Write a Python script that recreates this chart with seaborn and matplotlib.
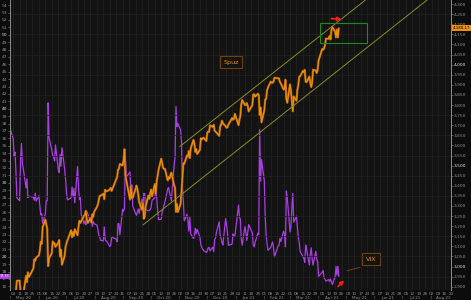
import numpy as np
import pandas as pd
import matplotlib
matplotlib.use("Agg")
import matplotlib.pyplot as plt
import matplotlib.transforms as mtrans
from matplotlib.patches import Rectangle
import seaborn as sns

sns.set_theme(style="dark")
plt.rcParams["font.family"] = ["DejaVu Sans"]

# ---------------- data (daily closes) ----------------
spx_may20 = [2830.71, 2842.74, 2868.44, 2848.42, 2881.19, 2929.80, 2930.32, 2870.12, 2820.00, 2852.50,
             2863.70, 2953.91, 2922.94, 2971.61, 2948.51, 2955.45, 2991.77, 3036.13, 3029.73, 3044.31]
spx_jun20 = [3055.73, 3080.82, 3122.87, 3112.35, 3193.93, 3232.39, 3207.18, 3190.14, 3002.10, 3041.31, 3066.59,
             3124.74, 3113.49, 3115.34, 3097.74, 3117.86, 3131.29, 3050.33, 3083.76, 3009.05, 3053.24, 3100.29]
spx_jul20 = [3115.86, 3130.01, 3179.72, 3145.32, 3169.94, 3152.05, 3185.04, 3155.22, 3197.52, 3226.56, 3215.57,
             3224.73, 3251.84, 3257.30, 3276.02, 3235.66, 3215.63, 3239.41, 3218.44, 3258.44, 3246.22, 3271.12]
spx_aug20 = [3294.61, 3306.51, 3327.77, 3349.16, 3351.28, 3360.47, 3333.69, 3380.35, 3373.43, 3372.85, 3381.99,
             3389.78, 3374.85, 3385.51, 3397.16, 3431.28, 3443.62, 3478.73, 3484.55, 3508.01, 3500.31]
spx_sep20 = [3526.65, 3580.84, 3455.06, 3426.96, 3331.84, 3398.96, 3339.19, 3340.97, 3383.54, 3401.20, 3385.49,
             3357.01, 3319.47, 3281.06, 3315.57, 3236.92, 3246.59, 3298.46, 3351.60, 3335.47, 3363.00]
spx_oct20 = [3380.80, 3348.42, 3408.60, 3360.97, 3419.44, 3446.83, 3477.14, 3534.22, 3511.93, 3488.67, 3483.34,
             3483.81, 3426.92, 3443.12, 3435.56, 3453.49, 3465.39, 3400.97, 3390.68, 3271.03, 3310.11, 3269.96]
spx_nov20 = [3310.24, 3369.16, 3443.44, 3510.45, 3509.44, 3550.50, 3545.53, 3572.66, 3537.01, 3585.15,
             3626.91, 3609.53, 3567.79, 3581.87, 3557.54, 3577.59, 3635.41, 3629.65, 3638.35, 3621.63]
spx_dec20 = [3662.45, 3669.01, 3666.72, 3699.12, 3691.96, 3702.25, 3672.82, 3668.10, 3663.46, 3647.49, 3694.62,
             3701.17, 3722.48, 3709.41, 3694.92, 3687.26, 3690.01, 3703.06, 3735.36, 3727.04, 3732.04, 3756.07]
spx_jan21 = [3700.65, 3726.86, 3748.14, 3803.79, 3824.68, 3799.61, 3801.19, 3809.84, 3795.54, 3768.25,
             3798.91, 3851.85, 3853.07, 3841.47, 3855.36, 3849.62, 3750.77, 3787.38, 3714.24]
spx_feb21 = [3773.86, 3826.31, 3830.17, 3871.74, 3886.83, 3915.59, 3911.23, 3909.88, 3916.38, 3934.83,
             3932.59, 3931.33, 3913.97, 3906.71, 3876.50, 3881.37, 3925.43, 3829.34, 3811.15]
spx_mar21 = [3901.82, 3870.29, 3819.72, 3768.47, 3841.94, 3821.35, 3875.44, 3898.81, 3939.34, 3943.34, 3968.94,
             3962.71, 3974.12, 3915.46, 3913.10, 3940.59, 3910.52, 3889.14, 3909.52, 3974.54, 3971.09, 3958.55, 3972.89]
spx_apr21 = [4019.87, 4077.91, 4073.94, 4079.95, 4097.17, 4128.80, 4127.99, 4141.59, 4124.66, 4170.42,
             4185.47, 4163.26, 4134.94, 4173.42, 4134.98, 4180.17]

vix_may20 = [37.19, 35.97, 33.61, 34.12, 31.44, 27.98, 27.57, 33.04, 35.28, 32.61,
             31.89, 29.30, 30.53, 27.99, 28.16, 28.16, 28.01, 27.62, 28.59, 27.51]
vix_jun20 = [28.23, 26.84, 25.66, 25.81, 24.52, 25.81, 27.57, 27.57, 40.79, 36.09, 34.40,
             33.67, 33.47, 32.94, 35.12, 31.77, 31.37, 33.84, 32.22, 34.73, 31.78, 30.43]
vix_jul20 = [28.62, 27.68, 27.94, 29.43, 28.08, 29.26, 27.29, 32.19, 29.52, 27.76, 28.00,
             25.68, 24.46, 24.84, 24.32, 26.08, 25.84, 24.74, 25.44, 24.10, 24.76, 24.46]
vix_aug20 = [24.28, 23.76, 22.99, 22.65, 22.21, 22.13, 24.03, 22.28, 22.13, 22.05, 21.35,
             21.51, 22.54, 22.72, 22.54, 22.37, 22.03, 24.47, 24.47, 22.96, 26.41]
vix_sep20 = [26.12, 26.57, 33.60, 30.75, 31.46, 28.81, 29.71, 26.87, 25.85, 25.59, 26.04,
             26.46, 25.83, 27.78, 26.86, 28.58, 28.51, 26.38, 26.19, 26.27, 26.37]
vix_oct20 = [26.70, 27.63, 27.96, 29.48, 28.06, 26.36, 25.00, 25.07, 26.07, 26.40, 26.97,
             27.41, 29.18, 29.35, 28.65, 28.11, 27.55, 32.46, 33.35, 40.28, 37.59, 38.02]
vix_nov20 = [37.13, 35.55, 29.57, 27.58, 24.86, 25.75, 24.80, 23.45, 25.35, 23.10,
             22.45, 22.71, 23.84, 23.11, 23.70, 22.66, 21.64, 21.25, 20.84, 20.57]
vix_dec20 = [20.77, 21.17, 21.28, 20.79, 21.30, 20.68, 22.27, 22.52, 23.31, 24.72, 22.89,
             22.50, 21.93, 21.57, 25.16, 24.23, 23.31, 21.53, 21.70, 23.08, 22.77, 22.75]
vix_jan21 = [26.97, 25.34, 25.07, 22.37, 21.56, 24.08, 23.33, 22.21, 23.25, 24.34,
             23.24, 21.58, 21.32, 21.91, 23.19, 23.02, 37.21, 30.21, 33.09]
vix_feb21 = [30.24, 25.56, 22.91, 21.77, 20.87, 21.24, 21.63, 21.99, 21.25, 19.97,
             21.46, 21.50, 22.49, 22.05, 23.45, 23.11, 21.34, 28.89, 27.95]
vix_mar21 = [23.35, 24.10, 26.67, 28.57, 24.66, 25.47, 24.03, 22.56, 21.91, 20.69, 20.03,
             19.79, 19.23, 21.58, 20.95, 18.88, 20.30, 21.20, 19.81, 18.86, 20.74, 19.61, 19.40]
vix_apr21 = [17.33, 17.91, 18.12, 17.16, 16.95, 16.69, 16.91, 16.65, 16.99, 16.57,
             16.25, 17.29, 18.68, 17.50, 18.71, 17.33]

market_holidays = ["2020-05-25", "2020-07-03", "2020-09-07", "2020-11-26", "2020-12-25",
                   "2021-01-01", "2021-01-18", "2021-02-15", "2021-04-02"]
first_day, last_day = "2020-05-01", "2021-04-23"

spx = (spx_may20 + spx_jun20 + spx_jul20 + spx_aug20 + spx_sep20 + spx_oct20 +
       spx_nov20 + spx_dec20 + spx_jan21 + spx_feb21 + spx_mar21 + spx_apr21)
vix = (vix_may20 + vix_jun20 + vix_jul20 + vix_aug20 + vix_sep20 + vix_oct20 +
       vix_nov20 + vix_dec20 + vix_jan21 + vix_feb21 + vix_mar21 + vix_apr21)

dates = pd.bdate_range(first_day, last_day)
dates = dates[~dates.isin(pd.to_datetime(market_holidays))]
n = min(len(dates), len(spx), len(vix))
df = pd.DataFrame({"date": dates[:n], "spx": spx[:n], "vix": vix[:n]})

# annotation anchors (dates / values on the chart's scales)
channel_lower = (["2020-09-22", "2021-07-28"], [3206, 4320])
channel_upper = (["2020-11-01", "2021-05-22"], [3594, 4320])
box_dates, box_vals = ["2021-04-03", "2021-05-24"], [4105, 4204]
arrow_top = (["2021-04-12", "2021-04-29"], [4229, 4224])
arrow_vix = (["2021-04-20", "2021-05-01"], [15.72, 17.07])
spuz_label = ("2020-12-27", 4011)
vix_label = ("2021-05-28", 19.65)
vix_leader = (["2021-05-16", "2021-05-02"], [18.57, 18.10])

# ---------------- figure ----------------
BG_OUT = "#0c0c0c"
BG_IN = "#131313"
GRID = "#222222"
ORANGE = "#f0900c"
PURPLE = "#ac3ce6"
TXT = "#8e8e8e"

W, H = 471, 300
fig = plt.figure(figsize=(W / 100, H / 100), dpi=100, facecolor=BG_OUT)
ax = fig.add_axes([9.5 / W, 10 / H, (451 - 9.5) / W, 290 / H])
ax.set_facecolor(BG_IN)
ax2 = ax.twinx()

xmin, xmax = pd.Timestamp("2020-04-30"), pd.Timestamp("2021-08-23")

# grid: weekly verticals, horizontal at odd hundreds of SPX
mondays = pd.date_range("2020-05-04", "2021-08-23", freq="W-MON")
ax.set_xticks(mondays)
ax.set_xticklabels([d.strftime("%d") for d in mondays])
ax.grid(axis="x", color=GRID, lw=0.5)
ax.grid(axis="y", visible=False)
ax2.grid(False)
for v in np.arange(2950, 4300, 100):
    ax2.axhline(v, color=GRID, lw=0.5, zorder=0)

sns.lineplot(data=df, x="date", y="vix", ax=ax, color=PURPLE, lw=0.9, zorder=3)
sns.lineplot(data=df, x="date", y="spx", ax=ax2, color="#a85f04", lw=1.6, zorder=3)
sns.lineplot(data=df, x="date", y="spx", ax=ax2, color=ORANGE, lw=0.8, zorder=4)

ax.set_xlim(xmin, xmax)
ax.set_ylim(15.5, 54.7)
ax2.set_ylim(2884, 4320)
ax.set_xlabel("")
ax.set_ylabel("")
ax2.set_ylabel("")

# y ticks
vix_ticks = list(range(16, 55))
ax.set_yticks(vix_ticks)
ax.set_yticklabels([str(t) for t in vix_ticks])
for lbl, t in zip(ax.get_yticklabels(), vix_ticks):
    lbl.set_color("#e0e0e0" if t % 10 == 0 else TXT)
ax.tick_params(axis="y", labelsize=3.2, length=1.2, width=0.4, color="#888888", pad=0.5)

spx_ticks = list(range(2900, 4301, 50))
ax2.set_yticks(spx_ticks)
ax2.set_yticklabels([f"{t:,}" for t in spx_ticks])
for lbl, t in zip(ax2.get_yticklabels(), spx_ticks):
    lbl.set_color("#e0e0e0" if t % 500 == 0 else TXT)
ax2.tick_params(axis="y", labelsize=3.2, length=1.2, width=0.4, color="#888888", pad=0.5)

ax.tick_params(axis="x", labelsize=3.0, length=0, pad=1.2, labelcolor=TXT)

for a in (ax, ax2):
    for s in ("top", "bottom"):
        a.spines[s].set_visible(False)
    a.spines["left"].set_color("#8a8a8a")
    a.spines["right"].set_color("#8a8a8a")
    a.spines["left"].set_linewidth(0.7)
    a.spines["right"].set_linewidth(0.7)

# month labels and separators
trans = mtrans.blended_transform_factory(ax.transData, ax.transAxes)
month_starts = pd.date_range("2020-05-01", "2021-08-01", freq="MS")
for ms in month_starts:
    mid = ms + pd.Timedelta(days=14)
    ax.text(mid, -0.026, ms.strftime("%b %y"), transform=trans, fontsize=3.0,
            color=TXT, ha="center", va="center", clip_on=False)
    ax.text(ms, -0.026, "|", transform=trans, fontsize=3.0,
            color=TXT, ha="center", va="center", clip_on=False)

# channel lines
for xs, ys in (channel_lower, channel_upper):
    ax2.plot(pd.to_datetime(xs), ys, color="#8c8c1c", lw=0.7, zorder=5)

# green box
bx0, bx1 = pd.to_datetime(box_dates)
ax2.add_patch(Rectangle((bx0, box_vals[0]), bx1 - bx0, box_vals[1] - box_vals[0],
                        fill=False, edgecolor="#1d8a1d", lw=0.8, zorder=6))

# red arrows
ax2.annotate("", xy=(pd.Timestamp(arrow_top[0][1]), arrow_top[1][1]),
             xytext=(pd.Timestamp(arrow_top[0][0]), arrow_top[1][0]),
             arrowprops=dict(arrowstyle="-|>", color="#ff1a1a", lw=1.3,
                             mutation_scale=5), zorder=7)
ax.annotate("", xy=(pd.Timestamp(arrow_vix[0][1]), arrow_vix[1][1]),
            xytext=(pd.Timestamp(arrow_vix[0][0]), arrow_vix[1][0]),
            arrowprops=dict(arrowstyle="-|>", color="#ff1a1a", lw=1.3,
                            mutation_scale=5), zorder=7)

# label boxes
ax2.text(pd.Timestamp(spuz_label[0]), spuz_label[1], "Spuz", color="#e8900c", fontsize=4.6,
         ha="center", va="center", zorder=8,
         bbox=dict(boxstyle="square,pad=0.55", facecolor=BG_IN, edgecolor="#6b430a", lw=0.8))
ax.plot(pd.to_datetime(vix_leader[0]), vix_leader[1], color="#6b430a", lw=0.7, zorder=7)
ax.text(pd.Timestamp(vix_label[0]), vix_label[1], "VIX", color="#e8900c", fontsize=4.6,
        ha="center", va="center", zorder=8,
        bbox=dict(boxstyle="square,pad=0.55", facecolor=BG_IN, edgecolor="#6b430a", lw=0.8))

# last-value tags on the axes
ltrans = mtrans.blended_transform_factory(ax.transAxes, ax.transData)
ax.text(-0.001, df["vix"].iloc[-1], f"{df['vix'].iloc[-1]:.2f}", transform=ltrans, fontsize=2.4,
        color="white", ha="right", va="center", clip_on=False, zorder=9,
        bbox=dict(boxstyle="square,pad=0.15", facecolor=PURPLE, edgecolor="none"))
rtrans = mtrans.blended_transform_factory(ax2.transAxes, ax2.transData)
ax2.text(1.004, df["spx"].iloc[-1], f"{df['spx'].iloc[-1]:,.2f}", transform=rtrans, fontsize=2.8,
         color="black", ha="left", va="center", clip_on=False, zorder=9,
         bbox=dict(boxstyle="square,pad=0.2", facecolor=ORANGE, edgecolor="none"))

fig.savefig("out.png", dpi=100, facecolor=BG_OUT)
